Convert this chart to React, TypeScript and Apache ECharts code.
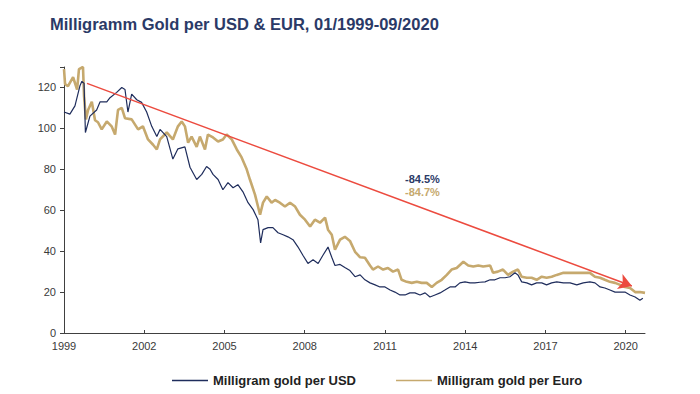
import React, { useEffect, useRef } from "react";
import * as echarts from "echarts";

// Decimal years and values
const usdYears = [1999.0, 1999.22, 1999.41, 1999.6, 1999.67, 1999.75, 1999.8, 1999.97, 2000.22, 2000.35, 2000.6, 2000.72, 2000.97, 2001.16, 2001.28, 2001.39, 2001.53, 2001.72, 2001.9, 2002.09, 2002.28, 2002.47, 2002.59, 2002.84, 2003.07, 2003.26, 2003.52, 2003.71, 2003.96, 2004.15, 2004.33, 2004.46, 2004.57, 2004.76, 2004.94, 2005.13, 2005.32, 2005.5, 2005.69, 2005.88, 2006.07, 2006.25, 2006.35, 2006.44, 2006.63, 2006.81, 2007.0, 2007.19, 2007.37, 2007.56, 2007.75, 2007.93, 2008.12, 2008.31, 2008.5, 2008.68, 2008.87, 2009.01, 2009.13, 2009.32, 2009.5, 2009.69, 2009.88, 2010.07, 2010.25, 2010.44, 2010.63, 2010.81, 2011.0, 2011.19, 2011.37, 2011.56, 2011.75, 2011.93, 2012.12, 2012.31, 2012.5, 2012.68, 2012.87, 2013.06, 2013.24, 2013.43, 2013.62, 2013.8, 2013.99, 2014.18, 2014.36, 2014.55, 2014.74, 2014.93, 2015.11, 2015.3, 2015.49, 2015.67, 2015.86, 2015.97, 2016.11, 2016.3, 2016.48, 2016.67, 2016.86, 2017.04, 2017.23, 2017.42, 2017.67, 2017.92, 2018.17, 2018.41, 2018.66, 2018.85, 2019.04, 2019.22, 2019.41, 2019.6, 2019.79, 2019.97, 2020.16, 2020.35, 2020.53, 2020.64];
const usdValues = [108, 107, 111, 121, 123, 122, 98, 106, 109, 113, 113, 115, 117.6, 120, 119, 108, 116.7, 114, 112.7, 108, 101, 96, 99.5, 96, 85, 90, 91, 81, 75, 77.5, 81.4, 80, 77.5, 75, 70, 73.5, 71, 72.5, 69, 63.7, 60.3, 55.4, 44, 50.5, 51.5, 51.5, 49, 48, 47, 45.6, 42, 38, 34, 35.8, 34, 38, 42, 37, 33, 33.5, 32, 30.5, 27.5, 28.4, 26, 24.5, 23.5, 22.5, 22.5, 21, 20, 18.6, 18.6, 19.6, 19.6, 18.6, 19.6, 17.6, 18.6, 19.6, 21, 22.5, 22.5, 24.5, 25, 24.5, 24.5, 24.8, 25, 26, 26, 27, 27, 27.5, 29.4, 28.4, 25, 24.5, 23.5, 24.5, 24.5, 23.5, 24.5, 25, 24.5, 24.5, 23.5, 24.5, 25, 24.5, 22.5, 22, 21, 20, 20, 20, 18.6, 17.6, 16, 17];

const eurYears = [1999.0, 1999.04, 1999.15, 1999.34, 1999.49, 1999.56, 1999.71, 1999.75, 1999.82, 1999.9, 2000.04, 2000.16, 2000.27, 2000.41, 2000.6, 2000.78, 2000.91, 2001.02, 2001.16, 2001.28, 2001.53, 2001.77, 2001.95, 2002.14, 2002.33, 2002.47, 2002.59, 2002.84, 2003.07, 2003.26, 2003.4, 2003.52, 2003.64, 2003.77, 2003.96, 2004.08, 2004.27, 2004.38, 2004.57, 2004.76, 2004.94, 2005.08, 2005.27, 2005.46, 2005.64, 2005.83, 2005.95, 2006.14, 2006.33, 2006.44, 2006.58, 2006.76, 2006.89, 2007.07, 2007.26, 2007.45, 2007.64, 2007.82, 2008.01, 2008.2, 2008.38, 2008.57, 2008.76, 2008.87, 2009.01, 2009.13, 2009.32, 2009.5, 2009.69, 2009.88, 2010.07, 2010.25, 2010.44, 2010.55, 2010.74, 2010.93, 2011.11, 2011.3, 2011.49, 2011.62, 2011.81, 2012.0, 2012.19, 2012.37, 2012.56, 2012.75, 2012.93, 2013.12, 2013.31, 2013.49, 2013.68, 2013.93, 2014.11, 2014.3, 2014.49, 2014.67, 2014.93, 2015.04, 2015.22, 2015.41, 2015.6, 2015.79, 2015.97, 2016.11, 2016.3, 2016.48, 2016.67, 2016.86, 2017.04, 2017.23, 2017.42, 2017.67, 2017.92, 2018.17, 2018.41, 2018.66, 2018.85, 2019.04, 2019.22, 2019.41, 2019.6, 2019.79, 2019.97, 2020.16, 2020.35, 2020.53, 2020.72];
const eurValues = [129, 121.6, 120.6, 125, 119, 129, 130, 115.7, 104.4, 109, 113, 104, 103, 99.5, 103.4, 101, 97, 109, 110, 105, 104.4, 99.5, 101, 94.6, 92, 89.7, 94.6, 98, 94.6, 101, 103.4, 101, 93, 96, 91, 96, 89.7, 97, 95.6, 93.6, 94.6, 97, 94.6, 89.7, 85.8, 80, 75, 67.6, 57.8, 63.7, 66.7, 63.7, 65, 63.7, 61.8, 63.7, 61.8, 57.8, 55.4, 52, 55.4, 53.9, 56.4, 50.5, 48, 40.7, 45.6, 47, 45, 39.7, 37, 36.8, 33, 31, 32.5, 31, 31.8, 30, 31, 26, 25, 24.5, 25, 24.5, 24.5, 22.5, 24.5, 26, 28.4, 31, 31.8, 34.8, 33, 32.5, 33, 32.5, 33, 29.4, 30, 31, 28.4, 30, 31, 27.5, 27, 27, 26, 27.5, 27, 27.5, 28.4, 29.4, 29.4, 29.4, 29.4, 29.4, 27.5, 27, 26, 25, 24.5, 23.5, 22.5, 22, 20, 20, 19.6];

const trendStart = { year: 1999.86, value: 122 };
const trendEnd = { year: 2020.23, value: 23 };

const xTickLabels = ["1999", "2002", "2005", "2008", "2011", "2014", "2017", "2020"];
const baseYear = 1999;
const lastYear = 2020.72;
const usdChange = "-84.5%";
const eurChange = "-84.7%";

const NAVY = "#1F2D5C";
const GOLD = "#C6A96E";
const RED = "#EC4B3F";
const FONT = "'Liberation Sans', Arial, sans-serif";

export default function App() {
  const ref = useRef<HTMLDivElement>(null);
  useEffect(() => {
    if (!ref.current) return;
    const chart = echarts.init(ref.current, undefined, { renderer: "svg" });
    const toXY = (years: number[], vals: number[]) => years.map((y, i) => [y - baseYear, vals[i]]);
    chart.setOption({
      animation: false,
      backgroundColor: "#ffffff",
      textStyle: { fontFamily: FONT },
      title: {
        text: "Milligramm Gold per USD & EUR, 01/1999-09/2020",
        left: 50,
        top: 15,
        padding: 0,
        textStyle: { fontFamily: FONT, fontSize: 16.5, fontWeight: "bold", color: "#2B3A67" },
      },
      legend: {
        left: 172,
        top: 374,
        padding: 0,
        icon: "rect",
        itemWidth: 36,
        itemHeight: 1.5,
        itemGap: 40,
        data: ["Milligram gold per USD", "Milligram gold per Euro"],
        textStyle: { fontFamily: FONT, fontSize: 13, fontWeight: "bold", color: "#222222" },
      },
      grid: { left: 64, right: 55, top: 67, bottom: 61, containLabel: false },
      xAxis: {
        type: "value",
        min: 0,
        max: lastYear - baseYear,
        interval: 3,
        axisLine: { show: true, onZero: false, lineStyle: { color: "#404040", width: 1 } },
        axisTick: { show: true, inside: true, length: 3, lineStyle: { color: "#404040" } },
        splitLine: { show: false },
        axisLabel: {
          margin: 7,
          fontSize: 11,
          color: "#3a3a3a",
          fontFamily: FONT,
          showMaxLabel: false,
          formatter: (v: number) => {
            const idx = Math.round(v / 3);
            return Math.abs(v - idx * 3) < 1e-6 && xTickLabels[idx] ? xTickLabels[idx] : "";
          },
        },
      },
      yAxis: {
        type: "value",
        min: 0,
        max: 130,
        interval: 20,
        axisLine: { show: true, lineStyle: { color: "#404040", width: 1 } },
        axisTick: { show: true, length: 4, lineStyle: { color: "#404040" } },
        splitLine: { show: false },
        axisLabel: {
          margin: 8,
          fontSize: 11,
          color: "#3a3a3a",
          fontFamily: FONT,
          formatter: (v: number) => (v % 20 === 0 ? String(v) : ""),
        },
      },
      series: [
        {
          name: "Milligram gold per Euro",
          type: "line",
          data: toXY(eurYears, eurValues),
          showSymbol: false,
          symbol: "none",
          lineStyle: { color: GOLD, width: 2.6 },
          itemStyle: { color: GOLD },
          z: 2,
        },
        {
          name: "Milligram gold per USD",
          type: "line",
          data: toXY(usdYears, usdValues),
          showSymbol: false,
          symbol: "none",
          lineStyle: { color: NAVY, width: 1.2 },
          itemStyle: { color: NAVY },
          z: 3,
          markLine: {
            silent: true,
            symbol: ["none", "arrow"],
            symbolSize: [12, 13],
            label: { show: false },
            lineStyle: { color: RED, width: 1.5, type: "solid" },
            data: [
              [
                { coord: [trendStart.year - baseYear, trendStart.value] },
                { coord: [trendEnd.year - baseYear, trendEnd.value] },
              ],
            ],
            z: 5,
          },
        },
      ],
      graphic: [
        {
          type: "text",
          left: 405,
          top: 173,
          style: { text: usdChange, fill: "#2B3A67", font: `bold 11px ${FONT}` },
        },
        {
          type: "text",
          left: 405,
          top: 186,
          style: { text: eurChange, fill: GOLD, font: `bold 11px ${FONT}` },
        },
      ],
    });
    return () => chart.dispose();
  }, []);
  return (
    <div
      ref={ref}
      style={{ position: "absolute", left: 0, top: 0, width: 700, height: 394, background: "#fff" }}
    />
  );
}
